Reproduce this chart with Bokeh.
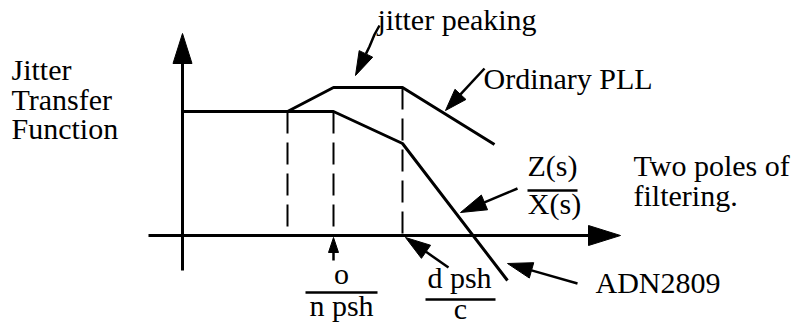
import numpy as np
from bokeh.plotting import figure
from bokeh.models import Range1d
from bokeh.core.properties import value
from bokeh.embed import file_html
from bokeh.resources import INLINE

# ---- schematic data (diagram units) ----
# ADN2809 response: flat, one pole, then two poles of filtering
adn_x = [182, 287, 333, 402, 507]
adn_y = [111, 111, 111, 143, 280]
# Ordinary PLL response with jitter peaking
pll_x = [287, 333, 402, 494]
pll_y = [111, 87, 87, 144]
# corner frequencies (dashed markers)
corner_x = [287, 333, 402]
corner_top = [111, 111, 87]
axis_y = 235

# axes: (tail, tip)
y_axis_tail = (182, 270)
y_axis_tip = (182, 33)
x_axis_tail = (148, 235)
x_axis_tip = (620, 235)

# annotation arrows: shaft points, tip
ann_shafts = [
    [(379, 25), (374, 34), (369, 46)],   # jitter peaking
    [(484, 68)],                          # Ordinary PLL
    [(517, 188)],                         # Z(s)/X(s)
    [(448, 267)],                         # d psh / c
    [(577, 283)],                         # ADN2809
    [(333, 260)],                         # o / n psh
]
ann_tips = [(355, 75), (445, 110), (460, 212), (405, 237), (507, 263), (333, 237)]
ann_head_len = [24, 22, 26, 25, 25, 15]
ann_head_wid = [15, 15, 16, 16, 16, 10]

# labels (baseline positions)
left_text = ["Jitter", "Transfer", "Function", "jitter peaking", "Ordinary PLL",
             "Two poles of", "filtering.", "ADN2809"]
left_x = [11, 11, 11, 377, 483, 633, 633, 595]
left_y = [79, 109, 138, 29, 88, 175, 205, 292]

center_text = ["Z(s)", "X(s)", "o", "n psh", "d psh", "c"]
center_x = [552, 554, 341, 341, 459, 460]
center_y = [175, 213, 283, 315, 287, 318]

# fraction bars
bar_x0 = [527, 305, 425]
bar_x1 = [577, 377, 495]
bar_y = [190, 292, 299]

FONT = value("Liberation Serif")
TEXT_DY = -10  # renderer places the alphabetic baseline lower than requested

p = figure(width=796, height=324, x_range=Range1d(0, 796), y_range=Range1d(324, 0),
           output_backend="svg", toolbar_location=None, min_border=0,
           x_axis_location=None, y_axis_location=None)
p.grid.visible = False
p.outline_line_color = None
p.background_fill_color = "white"
p.border_fill_color = "white"


def head(tail, tip, L, W):
    t = np.array(tip, float)
    d = t - np.array(tail, float)
    d /= np.hypot(*d)
    n = np.array([-d[1], d[0]])
    b = t - d * L
    v = [t, b + n * W / 2, b - n * W / 2]
    return [q[0] for q in v], [q[1] for q in v], b


def draw_arrow(shaft, tip, L, W, lw):
    hx, hy, base = head(shaft[-1], tip, L, W)
    xs = [s[0] for s in shaft] + [base[0]]
    ys = [s[1] for s in shaft] + [base[1]]
    p.line(xs, ys, line_color="black", line_width=lw)
    p.patch(hx, hy, fill_color="black", line_color="black", line_width=1)


# axes
draw_arrow([y_axis_tail], y_axis_tip, 30, 19, 3)
draw_arrow([x_axis_tail], x_axis_tip, 32, 20, 3)

# dashed corner markers
p.segment(x0=corner_x, y0=corner_top, x1=corner_x, y1=[axis_y] * len(corner_x),
          line_color="black", line_width=2, line_dash="22 9")

# responses
p.line(adn_x, adn_y, line_color="black", line_width=3)
p.line(pll_x, pll_y, line_color="black", line_width=3)

# annotation arrows
for sh, tp, L, W in zip(ann_shafts, ann_tips, ann_head_len, ann_head_wid):
    draw_arrow(sh, tp, L, W, 2.5)

# fraction bars
p.segment(x0=bar_x0, y0=bar_y, x1=bar_x1, y1=bar_y, line_color="black", line_width=2.5)

# labels
p.text(x=left_x, y=[v + TEXT_DY for v in left_y], text=left_text, text_font=FONT,
       text_font_size="30px", text_align="left", text_baseline="alphabetic",
       text_color="black")
p.text(x=center_x, y=[v + TEXT_DY for v in center_y], text=center_text, text_font=FONT,
       text_font_size="30px", text_align="center", text_baseline="alphabetic",
       text_color="black")

open("out.html", "w").write(file_html(p, INLINE))
